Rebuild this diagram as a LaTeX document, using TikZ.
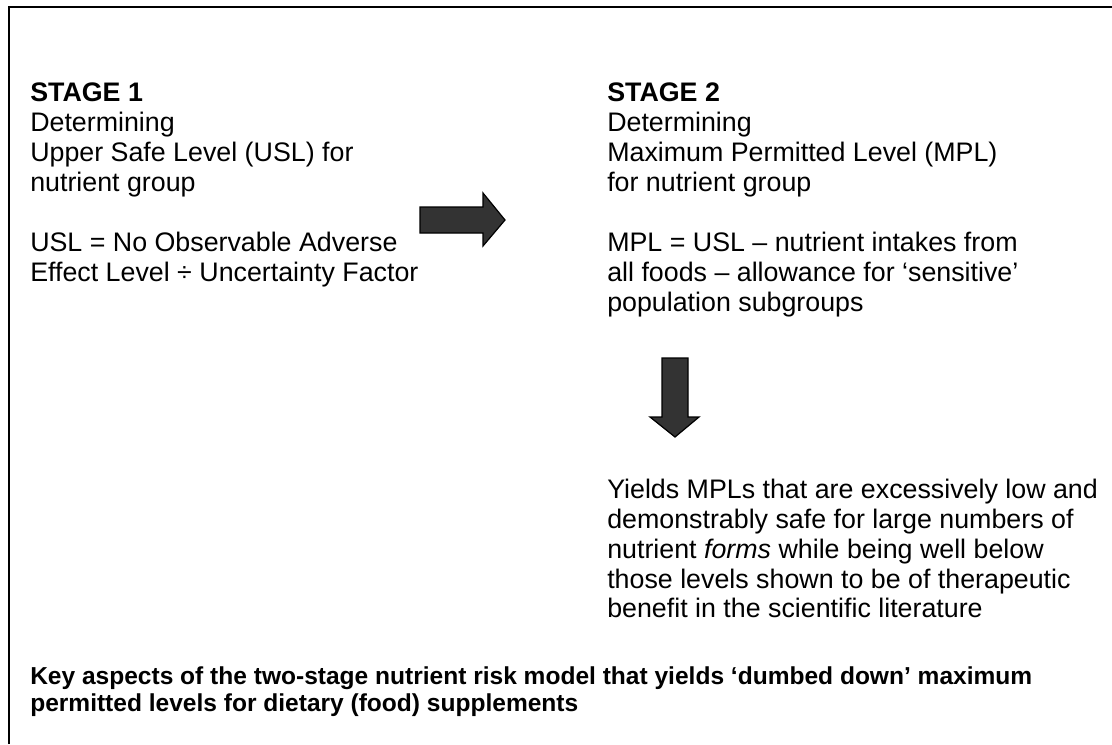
\documentclass[tikz,border=0pt]{standalone}
\usepackage{fontspec}
\setmainfont{Liberation Sans}
\usetikzlibrary{positioning}
\definecolor{arrowfill}{RGB}{51, 51, 51}

\tikzset{
  blocktext/.style={anchor=north west, inner sep=0pt, align=left,
    font=\fontsize{20.1}{22.35}\selectfont},
  captiontext/.style={blocktext, font=\fontsize{18.4}{20.5}\selectfont\bfseries},
  fatarrow/.style={draw=black, line width=0.9pt, fill=arrowfill, line join=miter}
}

\begin{document}
\begin{tikzpicture}[x=0.75pt, y=-0.75pt]
  \useasboundingbox (0,0) rectangle (1112,744);

  % Frame (top and left edge only)
  \draw[line width=1.5pt] (9,744) -- (9,7) -- (1112,7);

  % Stage 1
  \node[blocktext] (stageone) at (30,83) {\textbf{STAGE 1}\\Determining\\Upper Safe Level (USL) for\\nutrient group};
  \node[blocktext] (uslrule) at (30,232) {USL = No Observable Adverse\\Effect Level \char"00F7{} Uncertainty Factor};

  % Stage 2
  \node[blocktext] (stagetwo) at (607,83) {\textbf{STAGE 2}\\Determining\\Maximum Permitted Level (MPL)\\for nutrient group};
  \node[blocktext] (mplrule) at (607,232) {MPL = USL -- nutrient intakes from\\all foods -- allowance for `sensitive'\\population subgroups};

  % Outcome
  \node[blocktext] (outcome) at (607,479) {Yields MPLs that are excessively low and\\demonstrably safe for large numbers of\\nutrient \textit{forms} while being well below\\those levels shown to be of therapeutic\\benefit in the scientific literature};

  % Caption
  \node[captiontext] (caption) at (30,666.5) {Key aspects of the two-stage nutrient risk model that yields `dumbed down' maximum\\permitted levels for dietary (food) supplements};

  % Arrow stage 1 -> stage 2
  \draw[fatarrow] (420,207) -- (483,207) -- (483,193) -- (505,220) -- (483,246) -- (483,233) -- (420,233) -- cycle;

  % Arrow stage 2 -> outcome
  \draw[fatarrow] (662,358) -- (688,358) -- (688,417) -- (699,417) -- (675,437) -- (650,417) -- (662,417) -- cycle;
\end{tikzpicture}
\end{document}
